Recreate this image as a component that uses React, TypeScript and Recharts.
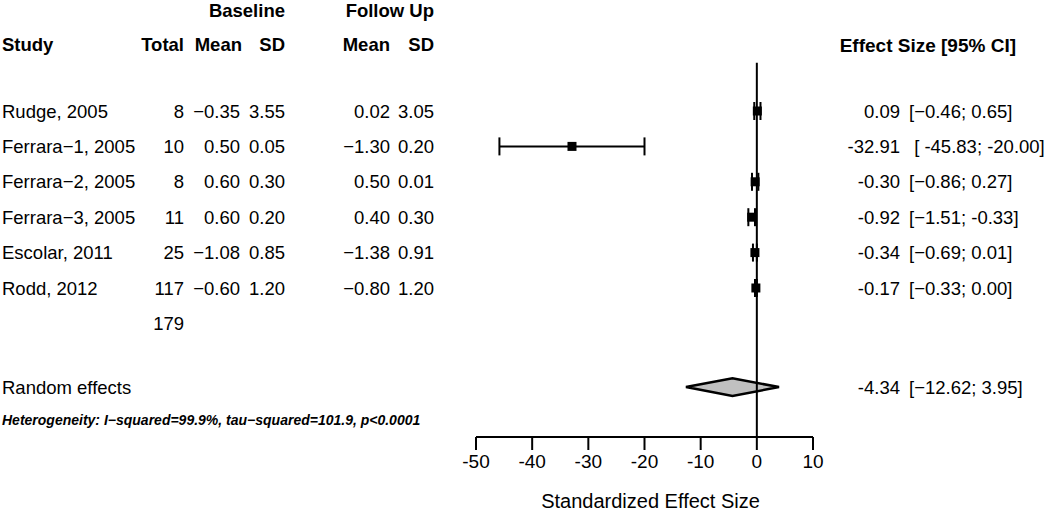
import React from "react";
import {
  ScatterChart,
  Scatter,
  XAxis,
  YAxis,
  ErrorBar,
  ReferenceLine,
  ReferenceArea,
} from "recharts";

const studies = [
  "Rudge, 2005",
  "Ferrara−1, 2005",
  "Ferrara−2, 2005",
  "Ferrara−3, 2005",
  "Escolar, 2011",
  "Rodd, 2012",
];
const totals = [8, 10, 8, 11, 25, 117];
const baseMean = ["−0.35", "0.50", "0.60", "0.60", "−1.08", "−0.60"];
const baseSD = ["3.55", "0.05", "0.30", "0.20", "0.85", "1.20"];
const fuMean = ["0.02", "−1.30", "0.50", "0.40", "−1.38", "−0.80"];
const fuSD = ["3.05", "0.20", "0.01", "0.30", "0.91", "1.20"];

const effect = [0.09, -32.91, -0.3, -0.92, -0.34, -0.17];
const lower = [-0.46, -45.83, -0.86, -1.51, -0.69, -0.33];
const upper = [0.65, -20.0, 0.27, -0.33, 0.01, 0.0];
const effectLabels = ["0.09", "-32.91", "-0.30", "-0.92", "-0.34", "-0.17"];
const ciLabels = [
  "[−0.46; 0.65]",
  " [ -45.83; -20.00]",
  "[−0.86; 0.27]",
  "[−1.51; -0.33]",
  "[−0.69; 0.01]",
  "[−0.33; 0.00]",
];

const pooled = -4.34;
const pooledLower = -12.62;
const pooledUpper = 3.95;
const pooledLabel = "-4.34";
const pooledCi = "[−12.62; 3.95]";
const heterogeneity =
  "Heterogeneity: I−squared=99.9%, tau−squared=101.9, p<0.0001";

const xTicks = [-50, -40, -30, -20, -10, 0, 10];

// vertical slots on the (hidden) row axis, 1 = first study
const ROW_GROUP_HEAD = -1.85;
const ROW_HEAD = -0.87;
const ROW_TOTAL = 7;
const ROW_POOLED = 8.8;
const ROW_HET = 9.73;
const Y_DOMAIN: [number, number] = [-2.136, 10.21];
const ZERO_LINE_TOP = -0.36;

const FONT = "Arial, 'Liberation Sans', Helvetica, sans-serif";

// column anchors for the table on the left / right
const COL = {
  study: 2,
  total: 184,
  bMean: 240,
  bSD: 285,
  fMean: 390,
  fSD: 434,
  eff: 900,
  ci: 909,
};

type Cell = {
  t: string;
  x: number;
  anchor: "start" | "end" | "middle";
  bold?: boolean;
  italic?: boolean;
  size?: number;
};

const TableRow = (props: any) => {
  const { cy, payload } = props;
  const cells: Cell[] = payload.cells;
  return (
    <g>
      {cells.map((c, k) => (
        <text
          key={k}
          x={c.x}
          y={cy}
          dy="0.36em"
          textAnchor={c.anchor}
          fontFamily={FONT}
          fontSize={c.size ?? 18.5}
          fontWeight={c.bold ? 700 : 400}
          fontStyle={c.italic ? "italic" : "normal"}
          fill="#000"
          style={{ whiteSpace: "pre" }}
        >
          {c.t}
        </text>
      ))}
    </g>
  );
};

const StudyBox = (props: any) => {
  const { cx, cy } = props;
  return <rect x={cx - 4.5} y={cy - 4.5} width={9} height={9} fill="#000" />;
};

const Diamond = (props: any) => {
  const { x, y, width, height } = props;
  const mx = x + width / 2;
  const my = y + height / 2;
  return (
    <polygon
      points={`${x},${my} ${mx},${y} ${x + width},${my} ${mx},${y + height}`}
      fill="#c0c0c0"
      stroke="#000"
      strokeWidth={2.5}
    />
  );
};

export default function App() {
  const boxes = studies.map((s, i) => ({
    x: effect[i],
    row: i + 1,
    err: [effect[i] - lower[i], upper[i] - effect[i]],
  }));

  const textRows = [
    {
      x: 0,
      row: ROW_GROUP_HEAD,
      cells: [
        { t: "Baseline", x: COL.bSD, anchor: "end", bold: true },
        { t: "Follow Up", x: COL.fSD, anchor: "end", bold: true },
      ],
    },
    {
      x: 0,
      row: ROW_HEAD,
      cells: [
        { t: "Study", x: COL.study, anchor: "start", bold: true },
        { t: "Total", x: COL.total, anchor: "end", bold: true },
        { t: "Mean", x: COL.bMean + 2, anchor: "end", bold: true },
        { t: "SD", x: COL.bSD, anchor: "end", bold: true },
        { t: "Mean", x: COL.fMean, anchor: "end", bold: true },
        { t: "SD", x: COL.fSD, anchor: "end", bold: true },
        { t: "Effect Size [95% CI]", x: 1016, anchor: "end", bold: true, size: 19 },
      ],
    },
    ...studies.map((s, i) => ({
      x: 0,
      row: i + 1,
      cells: [
        { t: s, x: COL.study, anchor: "start" },
        { t: String(totals[i]), x: COL.total, anchor: "end" },
        { t: baseMean[i], x: COL.bMean, anchor: "end" },
        { t: baseSD[i], x: COL.bSD, anchor: "end" },
        { t: fuMean[i], x: COL.fMean, anchor: "end" },
        { t: fuSD[i], x: COL.fSD, anchor: "end" },
        { t: effectLabels[i], x: COL.eff, anchor: "end" },
        { t: ciLabels[i], x: COL.ci, anchor: "start" },
      ],
    })),
    {
      x: 0,
      row: ROW_TOTAL,
      cells: [
        {
          t: String(totals.reduce((a, b) => a + b, 0)),
          x: COL.total,
          anchor: "end",
        },
      ],
    },
    {
      x: 0,
      row: ROW_POOLED,
      cells: [
        { t: "Random effects", x: COL.study, anchor: "start" },
        { t: pooledLabel, x: COL.eff, anchor: "end" },
        { t: pooledCi, x: COL.ci, anchor: "start" },
      ],
    },
    {
      x: 0,
      row: ROW_HET,
      cells: [
        {
          t: heterogeneity,
          x: COL.study,
          anchor: "start",
          bold: true,
          italic: true,
          size: 14,
        },
      ],
    },
  ];

  return (
    <div style={{ position: "absolute", left: 0, top: 0, background: "#fff" }}>
      <ScatterChart
        width={1050}
        height={511}
        margin={{ top: 0, right: 237, bottom: 0, left: 476 }}
      >
        <XAxis
          type="number"
          dataKey="x"
          domain={[-50, 10]}
          ticks={xTicks}
          interval={0}
          height={74}
          axisLine={{ stroke: "#000", strokeWidth: 2 }}
          tickLine={{ stroke: "#000", strokeWidth: 2 }}
          tickSize={13}
          tickMargin={5}
          tick={{ fill: "#000", fontSize: 19, fontFamily: FONT }}
          label={{
            value: "Standardized Effect Size",
            position: "insideBottom",
            offset: 3,
            dx: 6,
            fill: "#000",
            fontSize: 20,
            fontFamily: FONT,
          }}
        />
        <YAxis
          type="number"
          dataKey="row"
          domain={Y_DOMAIN}
          reversed
          hide
        />
        <ReferenceLine
          segment={[
            { x: 0, y: ZERO_LINE_TOP },
            { x: 0, y: Y_DOMAIN[1] },
          ]}
          stroke="#000"
          strokeWidth={2}
          ifOverflow="visible"
        />
        <ReferenceArea
          x1={pooledLower}
          x2={pooledUpper}
          y1={ROW_POOLED - 0.25}
          y2={ROW_POOLED + 0.25}
          shape={Diamond}
          ifOverflow="visible"
        />
        <Scatter
          data={boxes}
          shape={StudyBox}
          isAnimationActive={false}
        >
          <ErrorBar
            dataKey="err"
            direction="x"
            width={9}
            stroke="#000"
            strokeWidth={2}
          />
        </Scatter>
        <Scatter
          data={textRows}
          shape={TableRow}
          isAnimationActive={false}
        />
      </ScatterChart>
    </div>
  );
}
